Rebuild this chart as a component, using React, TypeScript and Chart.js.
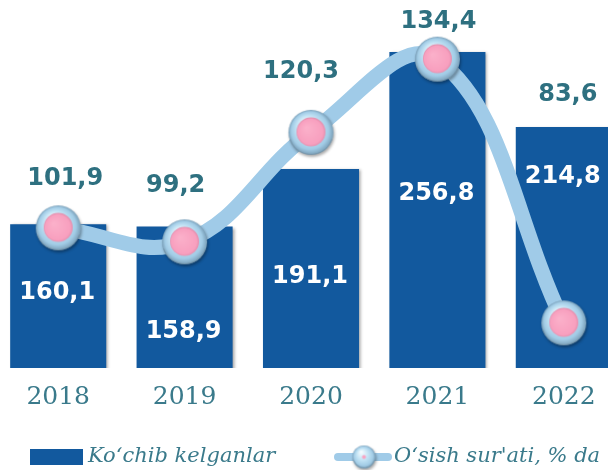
import React, { useEffect, useRef } from "react";
import { Chart, registerables } from "chart.js";

Chart.register(...registerables);

// ---- data ----
const categories = ["2018", "2019", "2020", "2021", "2022"];
const arrivals = [160.1, 158.9, 191.1, 256.8, 214.8];
const growthRate = [101.9, 99.2, 120.3, 134.4, 83.6];

const barSeriesName = "Ko‘chib kelganlar";
const lineSeriesName = "O‘sish sur'ati, % da";

// ---- label placement (pixel offsets, styling only) ----
const barLabelDrop = [68, 105, 108, 142, 50];
const lineLabelShift: [number, number][] = [
  [7, -49],
  [-9, -56],
  [-10, -61],
  [1, -37],
  [4, -228],
];

const SHIFT = 5; // canvas is shifted left by this many px
const BAR_COLOR = "#12599e";
const LINE_COLOR = "#a0cbe8";
const TEAL = "#2e7080";
const AXIS_TEAL = "#3a7a8b";

const fmt = (v: number) => v.toFixed(1).replace(".", ",");

function makeBall(r: number, innerR: number, dotR: number): HTMLCanvasElement {
  const pad = 5;
  const size = Math.ceil((r + pad) * 2);
  const c = document.createElement("canvas");
  c.width = size;
  c.height = size;
  const ctx = c.getContext("2d")!;
  const cx = size / 2;
  const cy = size / 2;
  ctx.save();
  ctx.shadowColor = "rgba(0,0,0,0.35)";
  ctx.shadowBlur = 3;
  ctx.shadowOffsetX = 1;
  ctx.shadowOffsetY = 2;
  const g = ctx.createRadialGradient(cx - r * 0.25, cy - r * 0.45, r * 0.05, cx, cy, r);
  g.addColorStop(0, "#f4fcff");
  g.addColorStop(0.5, "#c0e2f4");
  g.addColorStop(0.82, "#a2cce6");
  g.addColorStop(1, "#7a9fb8");
  ctx.fillStyle = g;
  ctx.beginPath();
  ctx.arc(cx, cy, r, 0, Math.PI * 2);
  ctx.fill();
  ctx.restore();
  ctx.strokeStyle = "rgba(110,140,160,0.7)";
  ctx.lineWidth = 1;
  ctx.beginPath();
  ctx.arc(cx, cy, r - 0.5, 0.1 * Math.PI, 0.9 * Math.PI);
  ctx.stroke();
  if (innerR > 0) {
    const pg = ctx.createRadialGradient(cx - innerR * 0.3, cy - innerR * 0.3, 1, cx, cy, innerR);
    pg.addColorStop(0, "#fbb0ca");
    pg.addColorStop(0.85, "#f8a0bf");
    pg.addColorStop(1, "#e48fae");
    ctx.fillStyle = pg;
    ctx.beginPath();
    ctx.arc(cx, cy - 0.5, innerR, 0, Math.PI * 2);
    ctx.fill();
  }
  if (dotR > 0) {
    ctx.fillStyle = "#f7a6c4";
    ctx.beginPath();
    ctx.arc(cx, cy, dotR, 0, Math.PI * 2);
    ctx.fill();
  }
  return c;
}

export default function App() {
  const ref = useRef<HTMLCanvasElement | null>(null);

  useEffect(() => {
    if (!ref.current) return;
    const ball = makeBall(22.5, 14.5, 0);
    const legendBall = makeBall(11.5, 0, 2);

    const barShadow = {
      id: "barShadow",
      beforeDatasetDraw(chart: any, args: any) {
        if (chart.data.datasets[args.index].type === "bar") {
          const ctx = chart.ctx;
          ctx.save();
          ctx.shadowColor = "rgba(0,0,0,0.35)";
          ctx.shadowBlur = 3;
          ctx.shadowOffsetX = 2;
          ctx.shadowOffsetY = 1;
        }
      },
      afterDatasetDraw(chart: any, args: any) {
        if (chart.data.datasets[args.index].type === "bar") {
          chart.ctx.restore();
        }
      },
    };

    const valueLabels = {
      id: "valueLabels",
      afterDatasetsDraw(chart: any) {
        const ctx = chart.ctx;
        ctx.save();
        ctx.textAlign = "center";
        ctx.textBaseline = "middle";
        ctx.font = "bold 24px 'DejaVu Sans'";
        chart.data.datasets.forEach((ds: any, di: number) => {
          const meta = chart.getDatasetMeta(di);
          meta.data.forEach((el: any, i: number) => {
            const v = ds.data[i];
            if (ds.type === "bar") {
              ctx.fillStyle = "#ffffff";
              ctx.fillText(fmt(v), el.x - 1, el.y + barLabelDrop[i]);
            } else {
              ctx.fillStyle = TEAL;
              const [dx, dy] = lineLabelShift[i];
              ctx.fillText(fmt(v), el.x + dx, el.y + dy);
            }
          });
        });
        ctx.restore();
      },
    };

    const customLegend = {
      id: "customLegend",
      afterDraw(chart: any) {
        const ctx = chart.ctx;
        const y = 457;
        ctx.save();
        ctx.fillStyle = BAR_COLOR;
        ctx.fillRect(30 + SHIFT, y - 8, 53, 16);
        ctx.fillStyle = AXIS_TEAL;
        ctx.font = "italic 21px 'DejaVu Serif'";
        ctx.textAlign = "left";
        ctx.textBaseline = "middle";
        ctx.fillText(barSeriesName, 88 + SHIFT, y);
        ctx.strokeStyle = LINE_COLOR;
        ctx.lineWidth = 8;
        ctx.lineCap = "round";
        ctx.beginPath();
        ctx.moveTo(338 + SHIFT, y);
        ctx.lineTo(388 + SHIFT, y);
        ctx.stroke();
        ctx.drawImage(legendBall, 364 + SHIFT - legendBall.width / 2, y - legendBall.height / 2);
        ctx.fillText(lineSeriesName, 394 + SHIFT, y);
        ctx.restore();
      },
    };

    const chart = new Chart(ref.current, {
      data: {
        labels: categories,
        datasets: [
          {
            type: "line",
            label: lineSeriesName,
            data: growthRate,
            yAxisID: "y2",
            borderColor: LINE_COLOR,
            borderWidth: 15,
            tension: 0.4,
            pointStyle: ball as any,
            pointRadius: 23,
            order: 1,
            clip: false as any,
          } as any,
          {
            type: "bar",
            label: barSeriesName,
            data: arrivals,
            yAxisID: "y",
            backgroundColor: BAR_COLOR,
            barPercentage: 0.76,
            categoryPercentage: 1,
            order: 2,
          } as any,
        ],
      },
      options: {
        animation: false,
        responsive: false,
        maintainAspectRatio: false,
        layout: { padding: 0, autoPadding: false },
        plugins: { legend: { display: false }, tooltip: { enabled: false } },
        scales: {
          x: {
            grid: { display: false, drawTicks: false },
            border: { display: false },
            ticks: {
              color: AXIS_TEAL,
              font: { family: "'DejaVu Serif'", size: 25 },
              padding: 14,
            },
            afterFit: (s: any) => {
              s.height = 102;
            },
          },
          y: { display: false, min: 79.5, max: 286 },
          y2: { display: false, min: 74.9, max: 145.8, position: "right" },
        },
      },
      plugins: [barShadow, valueLabels, customLegend],
    } as any);

    return () => chart.destroy();
  }, []);

  return (
    <div
      style={{
        position: "absolute",
        left: 0,
        top: 0,
        width: 608,
        height: 470,
        overflow: "hidden",
        background: "#ffffff",
      }}
    >
      <canvas
        ref={ref}
        width={632}
        height={470}
        style={{ position: "absolute", left: -SHIFT, top: 0, width: 632, height: 470 }}
      />
    </div>
  );
}
